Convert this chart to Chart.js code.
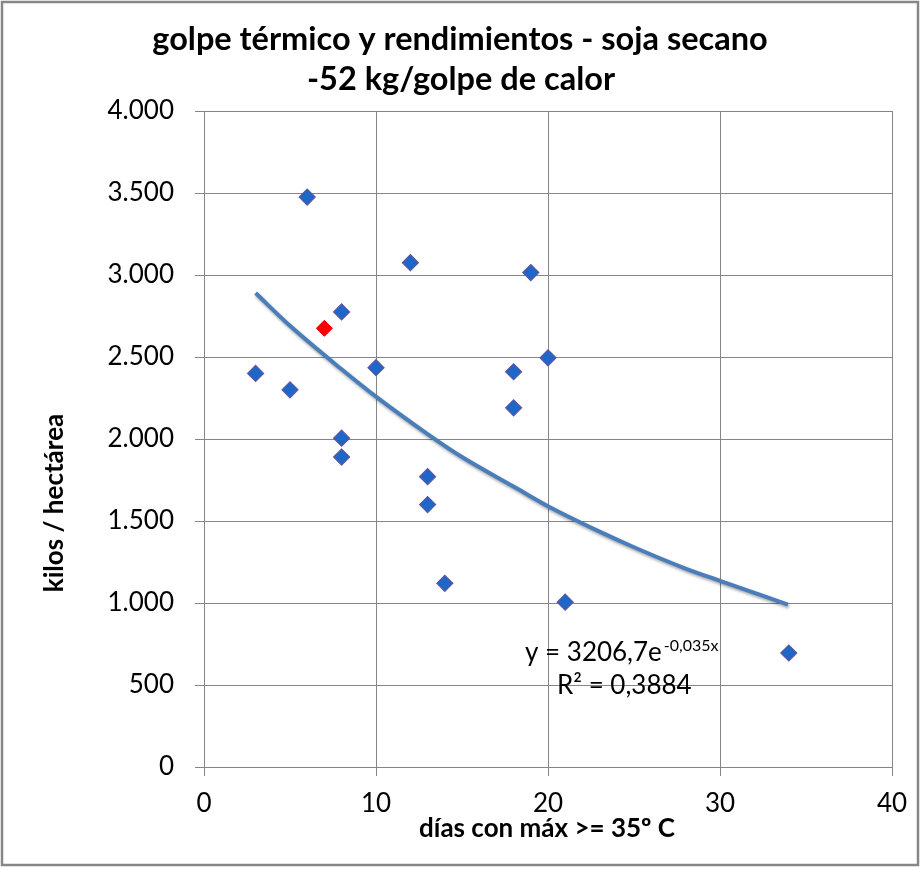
<!DOCTYPE html>
<html>
<head>
<meta charset="utf-8">
<script src="https://cdn.jsdelivr.net/npm/chart.js@4/dist/chart.umd.min.js"></script>
<style>
  html, body { margin: 0; padding: 0; background: #fff; }
  #wrap { width: 923px; height: 869px; }
</style>
</head>
<body>
<div id="wrap"><canvas id="golpe"></canvas></div>
<script>
// dias con max >= 35 C vs kilos / hectarea
const dias = [3, 5, 6, 8, 8, 8, 10, 12, 13, 13, 14, 18, 18, 19, 20, 21, 34];
const kilos = [2400, 2300, 3475, 2775, 2005, 1890, 2435, 3075, 1770, 1600, 1120, 2410, 2190, 3015, 2495, 1005, 695];

// highlighted (red) campaign
const diasRojo = [7];
const kilosRojo = [2675];

// exponential trendline
const trendDias = [3, 5, 8, 10, 13, 15, 18, 20, 23, 25, 28, 30, 33.95];
const trendKilos = [2890, 2690, 2425, 2258, 2030, 1890, 1710, 1590, 1435, 1340, 1210, 1135, 990];

const titleLines = ["golpe térmico y rendimientos - soja secano", "-52 kg/golpe de calor"];
const xTitle = "días con máx >= 35º C";
const yTitle = "kilos / hectárea";
const eqMain = "y = 3206,7e";
const eqExp = "-0,035x";
const r2Text = "R² = 0,3884";

const xTicks = [0, 10, 20, 30, 40];
const yTicks = [0, 500, 1000, 1500, 2000, 2500, 3000, 3500, 4000];

function fmtMiles(v) {
    if (v < 1000) return String(v);
    return Math.floor(v / 1000) + "." + String(v % 1000).padStart(3, "0");
}

function pts(xs, ys) {
    return xs.map((x, i) => ({ x: x, y: ys[i] }));
}

const gridGray = "#868686";

const extras = {
    id: "extras",
    beforeDatasetDraw(chart, args) {
        if (args.index === 0) {
            const c = chart.ctx;
            c.save();
            c.shadowColor = "rgba(0,0,0,0.35)";
            c.shadowBlur = 3;
            c.shadowOffsetX = 1;
            c.shadowOffsetY = 2;
        }
    },
    afterDatasetDraw(chart, args) {
        if (args.index === 0) chart.ctx.restore();
    },
    afterDraw(chart) {
        const c = chart.ctx;
        c.save();
        // outer frame
        c.strokeStyle = gridGray;
        c.lineWidth = 2.5;
        c.strokeRect(2, 2, 916, 863);

        c.fillStyle = "#000";
        c.textBaseline = "alphabetic";
        c.textAlign = "center";

        // chart title, centred on the whole frame
        c.font = "bold 32.5px Lato";
        c.fillText(titleLines[0], 460, 50);
        c.fillText(titleLines[1], 461, 90);

        // x axis title
        c.font = "bold 26px Lato";
        c.fillText(xTitle, 547, 837);

        // y axis title
        c.save();
        c.translate(63, 503);
        c.rotate(-Math.PI / 2);
        c.fillText(yTitle, 0, 0);
        c.restore();

        // trendline equation
        c.textAlign = "left";
        c.font = "26px Lato";
        c.fillText(eqMain, 525, 661);
        const w = c.measureText(eqMain).width;
        c.font = "16px Lato";
        c.fillText(eqExp, 525 + w + 2, 651);
        c.font = "26px Lato";
        c.fillText(r2Text, 557, 694);
        c.restore();
    }
};

new Chart(document.getElementById("golpe"), {
    type: "scatter",
    data: {
        datasets: [
            {
                type: "line",
                label: "tendencia",
                data: pts(trendDias, trendKilos),
                borderColor: "#4a7ebb",
                borderWidth: 4,
                pointRadius: 0,
                tension: 0.4,
                cubicInterpolationMode: "monotone",
                fill: false,
            },
            {
                label: "campañas",
                data: pts(dias, kilos),
                pointStyle: "rectRot",
                pointRadius: 8,
                backgroundColor: "#1e66c8",
                borderColor: "#5b58a0",
                borderWidth: 1.2,
            },
            {
                label: "destacada",
                data: pts(diasRojo, kilosRojo),
                pointStyle: "rectRot",
                pointRadius: 8,
                backgroundColor: "#ff0000",
                borderColor: "#e00000",
                borderWidth: 1,
            },
        ],
    },
    options: {
        responsive: true,
        maintainAspectRatio: false,
        animation: false,
        layout: { padding: { top: 111, left: 0, right: 31, bottom: 0 } },
        plugins: {
            legend: { display: false },
            tooltip: { enabled: false },
            title: { display: false },
        },
        scales: {
            x: {
                type: "linear",
                min: 0,
                max: 40,
                afterBuildTicks: (s) => { s.ticks = xTicks.map((v) => ({ value: v })); },
                afterFit: (s) => { s.height = 102; },
                ticks: {
                    color: "#000",
                    font: { family: "Lato", size: 26 },
                    padding: 12,
                    maxRotation: 0,
                },
                grid: { color: gridGray, tickColor: gridGray, tickLength: 9 },
                border: { color: gridGray },
            },
            y: {
                min: 0,
                max: 4000,
                afterBuildTicks: (s) => { s.ticks = yTicks.map((v) => ({ value: v })); },
                afterFit: (s) => { s.width = 204; },
                ticks: {
                    color: "#000",
                    font: { family: "Lato", size: 26 },
                    padding: 21,
                    callback: (v) => fmtMiles(v),
                },
                grid: { color: gridGray, tickColor: gridGray, tickLength: 9 },
                border: { color: gridGray },
            },
        },
    },
    plugins: [extras],
});
</script>
</body>
</html>
